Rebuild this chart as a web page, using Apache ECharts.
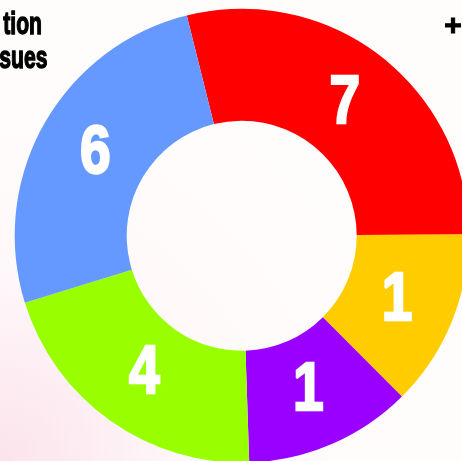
<!DOCTYPE html>
<html>
<head>
<meta charset="utf-8">
<script src="https://cdn.jsdelivr.net/npm/echarts@6/dist/echarts.min.js"></script>
<style>
html,body{margin:0;padding:0;background:#fff;}
#c{width:462px;height:461px;}
</style>
</head>
<body>
<div id="c"></div>
<script>
// Displayed numbers on each slice
const labels = ['7', '1', '1', '4', '6'];
// Angular share of each slice (degrees)
const shares = [103.7, 45.4, 43.0, 74.7, 93.2];
const colors = ['#FF0000', '#FFCC00', '#9900FF', '#99FF00', '#6699FF'];
const titleLines = ['tion', 'sues'];

const FAMILY = 'Liberation Sans';
const chart = echarts.init(document.getElementById('c'), null, {renderer: 'canvas'});

function txt(text, x, y, size, sx, align, color, strokeW, extra) {
  return {
    type: 'text', x: x, y: y, scaleX: sx, z: 10,
    style: Object.assign({
      text: text, fontFamily: FAMILY, fontWeight: 'bold', fontSize: size,
      fill: color, stroke: color, lineWidth: strokeW,
      align: align, verticalAlign: 'middle'
    }, extra || {})
  };
}

const baseGraphics = [
  txt(titleLines[0], 42, 25, 32, 0.66, 'right', '#000', 1.4),
  txt(titleLines[1], 47.5, 59, 32, 0.66, 'right', '#000', 1.4),
  txt('+', 453, 27, 30, 1, 'center', '#000', 1)
];

chart.setOption({
  backgroundColor: {
    type: 'radial', x: 0, y: 1, r: 0.9,
    colorStops: [
      {offset: 0, color: '#fbe3ec'},
      {offset: 0.45, color: '#fff8fa'},
      {offset: 1, color: '#fffdfb'}
    ]
  },
  graphic: baseGraphics,
  series: [{
    type: 'pie',
    center: [241.7, 235.7],
    radius: [115, 227],
    startAngle: 104,
    clockwise: true,
    silent: true,
    animation: false,
    label: {show: false},
    labelLine: {show: false},
    itemStyle: {borderWidth: 0},
    data: shares.map((v, i) => ({value: v, name: labels[i], itemStyle: {color: colors[i]}}))
  }]
});

// Place slice labels at the mid-angle of each slice from the library's own layout
const data = chart.getModel().getSeriesByIndex(0).getData();
const labelGraphics = [];
for (let i = 0; i < data.count(); i++) {
  const L = data.getItemLayout(i);
  const mid = (L.startAngle + L.endAngle) / 2;
  const rm = (L.r0 + L.r) / 2 - 3;
  const x = L.cx + rm * Math.cos(mid);
  const y = L.cy + rm * Math.sin(mid);
  labelGraphics.push(txt(labels[i], x, y + 1, 69, 0.8, 'center', '#fff', 2.5, {
    shadowColor: 'rgba(0,0,0,0.35)', shadowBlur: 2, shadowOffsetX: -1, shadowOffsetY: 1
  }));
}
chart.setOption({graphic: baseGraphics.concat(labelGraphics)});
</script>
</body>
</html>
